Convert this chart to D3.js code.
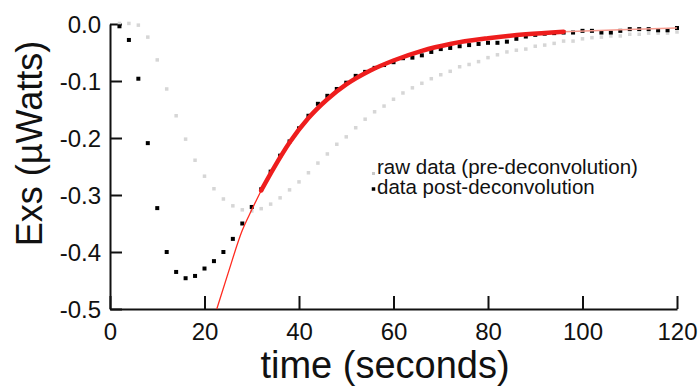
<!DOCTYPE html>
<html>
<head>
<meta charset="utf-8">
<script src="https://cdn.jsdelivr.net/npm/d3@7"></script>
<style>
  body { margin: 0; background: #fff; }
  text { font-family: "Liberation Sans", Arial, sans-serif; fill: #111; }
</style>
</head>
<body>
<div class="chart"></div>
<script>
// time axis (s), sampled every 2 s
const times = [2, 4, 6, 8, 10, 12, 14, 16, 18, 20, 22, 24, 26, 28, 30, 32, 34, 36, 38, 40,
  42, 44, 46, 48, 50, 52, 54, 56, 58, 60, 62, 64, 66, 68, 70, 72, 74, 76, 78, 80,
  82, 84, 86, 88, 90, 92, 94, 96, 98, 100, 102, 104, 106, 108, 110, 112, 114, 116, 118, 120];

// raw data (pre-deconvolution), grey
const rawValues = [0.001, 0.001, -0.002, -0.023, -0.063, -0.114, -0.161, -0.202, -0.239, -0.267,
  -0.289, -0.307, -0.319, -0.326, -0.328, -0.324, -0.316, -0.305, -0.291, -0.277,
  -0.261, -0.244, -0.228, -0.211, -0.198, -0.182, -0.167, -0.154, -0.144, -0.132,
  -0.121, -0.112, -0.104, -0.096, -0.089, -0.083, -0.075, -0.071, -0.066, -0.059,
  -0.054, -0.049, -0.046, -0.044, -0.039, -0.037, -0.034, -0.030, -0.030, -0.026,
  -0.024, -0.023, -0.021, -0.021, -0.018, -0.018, -0.016, -0.016, -0.016, -0.014];

// data post-deconvolution, black
const postValues = [-0.004, -0.028, -0.096, -0.209, -0.323, -0.400, -0.435, -0.446, -0.442, -0.429,
  -0.416, -0.400, -0.377, -0.350, -0.321, -0.290, -0.259, -0.231, -0.206, -0.183,
  -0.161, -0.140, -0.126, -0.114, -0.103, -0.091, -0.084, -0.077, -0.072, -0.067,
  -0.060, -0.059, -0.055, -0.049, -0.044, -0.042, -0.039, -0.037, -0.035, -0.033,
  -0.033, -0.031, -0.026, -0.022, -0.019, -0.017, -0.016, -0.015, -0.015, -0.012,
  -0.012, -0.015, -0.015, -0.012, -0.009, -0.009, -0.009, -0.011, -0.011, -0.007];

// red fit curve
const fitTimes = [22.6, 25, 28, 30, 32, 35, 38, 42, 46, 50, 55, 60, 66, 72, 80, 88, 96, 108, 120];
const fitValues = [-0.500, -0.437, -0.362, -0.326, -0.292, -0.248, -0.208, -0.165, -0.132, -0.106,
  -0.082, -0.064, -0.047, -0.035, -0.025, -0.018, -0.0135, -0.010, -0.007];
const fitRange = [32, 96]; // fitted window, drawn thick

const xTicks = [0, 20, 40, 60, 80, 100, 120];
const yTicks = [0, -0.1, -0.2, -0.3, -0.4, -0.5];
const legendLabels = ['raw data (pre-deconvolution)', 'data post-deconvolution'];

const width = 699;
const height = 386;

const svg = d3.select('.chart')
  .append('svg')
  .attr('width', width)
  .attr('height', height);

const x = d3.scaleLinear().domain([0, 120]).range([110, 677]);
const y = d3.scaleLinear().domain([-0.5, 0]).range([309, 24]);

// axes, ticks pointing inward
const xAxis = svg.append('g')
  .attr('transform', `translate(0,${y(-0.5)})`)
  .call(d3.axisBottom(x).tickValues(xTicks).tickSizeInner(-13).tickSizeOuter(0)
    .tickFormat(d => d));
xAxis.selectAll('text')
  .attr('y', 31).attr('dy', null)
  .style('font-size', '24px');

const yAxis = svg.append('g')
  .attr('transform', `translate(${x(0)},0)`)
  .call(d3.axisLeft(y).tickValues(yTicks).tickSizeInner(-12).tickSizeOuter(0)
    .tickFormat(d => d.toFixed(1)));
yAxis.selectAll('text')
  .attr('x', -9).attr('dy', '0.36em')
  .style('font-size', '24px');

svg.selectAll('.domain, .tick line')
  .attr('stroke', '#111')
  .attr('stroke-width', 2);

const rawData = times.map((t, i) => ({ t, v: rawValues[i] }));
const postData = times.map((t, i) => ({ t, v: postValues[i] }));
const fitData = fitTimes.map((t, i) => ({ t, v: fitValues[i] }));

// grey raw points
svg.append('g')
  .selectAll('rect')
  .data(rawData)
  .enter()
  .append('rect')
  .attr('x', d => x(d.t) - 1.75)
  .attr('y', d => y(d.v) - 1.75)
  .attr('width', 3.5)
  .attr('height', 3.5)
  .attr('fill', '#d6d6d6');

// black deconvolved points
svg.append('g')
  .selectAll('rect')
  .data(postData)
  .enter()
  .append('rect')
  .attr('x', d => x(d.t) - 2)
  .attr('y', d => y(d.v) - 2)
  .attr('width', 4)
  .attr('height', 4)
  .attr('fill', '#000');

// fit curve: thin extrapolation, thick over fitted window
const fitLine = d3.line()
  .curve(d3.curveMonotoneX)
  .x(d => x(d.t))
  .y(d => y(d.v));

svg.append('path')
  .attr('fill', 'none')
  .attr('stroke', '#ff2a1f')
  .attr('stroke-width', 1.3)
  .attr('d', fitLine(fitData.filter(d => d.t <= fitRange[0])));

svg.append('path')
  .attr('fill', 'none')
  .attr('stroke', '#f59a8e')
  .attr('stroke-width', 1.6)
  .attr('d', fitLine(fitData.filter(d => d.t >= fitRange[1])));

svg.append('path')
  .attr('fill', 'none')
  .attr('stroke', '#ee1d1d')
  .attr('stroke-width', 4.5)
  .attr('stroke-linecap', 'round')
  .attr('d', fitLine(fitData.filter(d => d.t >= fitRange[0] && d.t <= fitRange[1])));

// legend
const legend = svg.append('g').attr('transform', 'translate(377,0)');
const legendColors = ['#c8c8c8', '#000'];
const legendBaselines = [174, 194];
const legendMarkY = [173.5, 189];
const legendMarkSize = [3, 3.5];

legendLabels.forEach((label, i) => {
  legend.append('rect')
    .attr('x', -3.5 - legendMarkSize[i] / 2)
    .attr('y', legendMarkY[i] - legendMarkSize[i] / 2)
    .attr('width', legendMarkSize[i])
    .attr('height', legendMarkSize[i])
    .attr('fill', legendColors[i]);
  legend.append('text')
    .attr('x', 0)
    .attr('y', legendBaselines[i])
    .style('font-size', '20.5px')
    .text(label);
});

// axis titles
svg.append('text')
  .attr('x', 385)
  .attr('y', 378)
  .attr('text-anchor', 'middle')
  .style('font-size', '38px')
  .text('time (seconds)');

svg.append('text')
  .attr('transform', 'translate(42,143.5) rotate(-90)')
  .attr('text-anchor', 'middle')
  .style('font-size', '36px')
  .text('Exs (µWatts)');
</script>
</body>
</html>
